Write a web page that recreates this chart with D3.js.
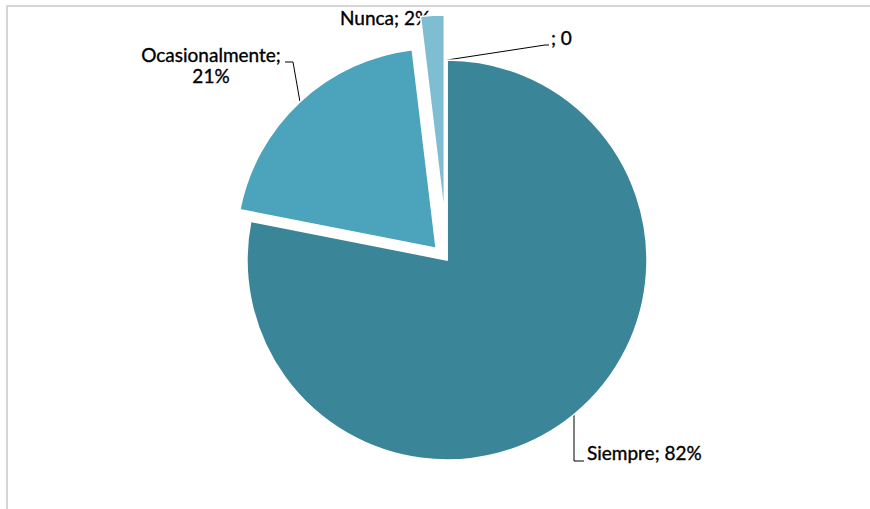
<!DOCTYPE html>
<html>
<head>
<meta charset="utf-8">
<script src="https://cdn.jsdelivr.net/npm/d3@7"></script>
<style>
  body { margin: 0; background: #fff; }
  svg text { font-family: Lato, "Open Sans", sans-serif; font-size: 19px; fill: #000; stroke: #000; stroke-width: 0.35px; }
</style>
</head>
<body>
<svg width="870" height="509"></svg>
<script>
// Data: answer categories and their shares (as printed on the labels)
const categories = ["Siempre", "Ocasionalmente", "Nunca", ""];
const values = [0.82, 0.21, 0.02, 0];
const colors = ["#3a8698", "#4ba4bb", "#7fbdd2", "#9fd0e0"];
// how far each slice is pulled out of the pie
const explode = [0, 16, 45, 0];

const svg = d3.select("svg"),
    cx = 447, cy = 260, radius = 200;

// chart frame (only top and left edges show inside the window)
svg.append("rect")
    .attr("x", 7).attr("y", 6)
    .attr("width", 880).attr("height", 520)
    .attr("fill", "none").attr("stroke", "#c9c9c9").attr("stroke-width", 1.5);

const pie = d3.pie().sort(null).value(d => d)(values);
const arc = d3.arc().innerRadius(0).outerRadius(radius);

const g = svg.append("g").attr("transform", `translate(${cx},${cy})`);

function offset(d, i) {
    const a = (d.startAngle + d.endAngle) / 2;
    return [Math.sin(a) * explode[i], -Math.cos(a) * explode[i]];
}

g.selectAll(".slice")
    .data(pie)
    .enter().append("path")
    .attr("class", "slice")
    .attr("transform", (d, i) => { const o = offset(d, i); return `translate(${o[0]},${o[1]})`; })
    .attr("d", arc)
    .attr("fill", (d, i) => colors[i])
    .attr("stroke", "#fff")
    .attr("stroke-width", 1.5);

// label text and leader lines (label points relative to the pie centre)
const fmt = d3.format(".0%");
const labels = [
    { lines: [categories[0] + "; " + fmt(values[0])], x: 140, y: 200, anchor: "start",
      leader: [[127, 154], [127, 201], [137, 201]] },
    { lines: [categories[1] + ";", fmt(values[1])], x: -236, y: -198, anchor: "middle",
      leader: [[-162, -198], [-154, -198], [-147, -158]] },
    { lines: [categories[2] + "; " + fmt(values[2])], x: -107, y: -235, anchor: "start", leader: null },
    { lines: [categories[3] + "; " + values[3]], x: 104, y: -215, anchor: "start",
      leader: [[0, -200], [98, -215], [102, -215]] }
];

const lg = svg.append("g").attr("transform", `translate(${cx},${cy})`);
labels.forEach(l => {
    if (l.leader) {
        lg.append("path")
            .attr("d", d3.line()(l.leader))
            .attr("fill", "none").attr("stroke", "#000").attr("stroke-width", 1);
    }
    const t = lg.append("text")
        .attr("x", l.x).attr("y", l.y)
        .attr("text-anchor", l.anchor);
    l.lines.forEach((s, k) => {
        t.append("tspan").attr("x", l.x).attr("dy", k === 0 ? 0 : 21).text(s);
    });
});

// Nunca slice sits on top of its own label in the original
g.selectAll(".slice").filter((d, i) => i === 2).raise();
svg.node().appendChild(g.node());
</script>
</body>
</html>
